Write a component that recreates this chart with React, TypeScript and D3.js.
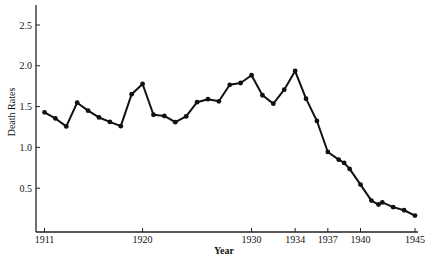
import React from "react";
import * as d3 from "d3";

const years = [1911,1912,1913,1914,1915,1916,1917,1918,1919,1920,1921,1922,1923,1924,1925,1926,1927,1928,1929,1930,1931,1932,1933,1934,1935,1936,1937,1938,1938.5,1939,1940,1941,1941.65,1942,1943,1944,1945];
const rates = [1.43,1.355,1.257,1.548,1.45,1.367,1.312,1.26,1.652,1.777,1.40,1.385,1.309,1.379,1.554,1.591,1.565,1.767,1.789,1.884,1.639,1.536,1.707,1.936,1.597,1.324,0.944,0.85,0.81,0.736,0.544,0.348,0.30,0.326,0.268,0.23,0.164];
const xTicks = [1911,1920,1930,1934,1937,1940,1945];
const yTicks = [0.5,1.0,1.5,2.0,2.5];

const W = 433, H = 265;
const font = "'Liberation Serif', 'Times New Roman', serif";

export default function App() {
  const x = d3.scaleLinear().domain([1911, 1945]).range([44.5, 415]);
  const y = d3.scaleLinear().domain([0, 2.5]).range([229, 25]);
  const axisY = 232, axisX = 36;
  const line = d3.line<number>().x((_, i) => x(years[i])).y((d) => y(d));
  return (
    <svg width={W} height={H} style={{ position: "absolute", left: 0, top: 0, background: "#fff" }} fontFamily={font}>
      <rect width={W} height={H} fill="#fff" />
      <line x1={axisX} y1={5} x2={axisX} y2={axisY} stroke="#222" strokeWidth={1.3} />
      <line x1={axisX} y1={axisY} x2={418} y2={axisY} stroke="#222" strokeWidth={1.3} />
      {yTicks.map((t) => (
        <g key={t}>
          <line x1={axisX} x2={axisX + 4} y1={y(t)} y2={y(t)} stroke="#222" strokeWidth={1} />
          <text x={axisX - 4} y={y(t)} dy="0.35em" textAnchor="end" fontSize={10} fill="#111">{t.toFixed(1)}</text>
        </g>
      ))}
      {xTicks.map((t) => (
        <g key={t}>
          <line x1={x(t)} x2={x(t)} y1={axisY} y2={axisY - 4} stroke="#222" strokeWidth={1} />
          <text x={x(t)} y={243} textAnchor="middle" fontSize={10} fill="#111">{t}</text>
        </g>
      ))}
      <text x={224} y={254} textAnchor="middle" fontSize={10} fontWeight="bold" fill="#111">Year</text>
      <text transform="translate(15,112) rotate(-90)" textAnchor="middle" fontSize={10} fill="#111">Death Rates</text>
      <path d={line(rates) || ""} fill="none" stroke="#111" strokeWidth={2} strokeLinejoin="round" />
      {rates.map((r, i) => (
        <circle key={i} cx={x(years[i])} cy={y(r)} r={2.4} fill="#111" />
      ))}
    </svg>
  );
}
